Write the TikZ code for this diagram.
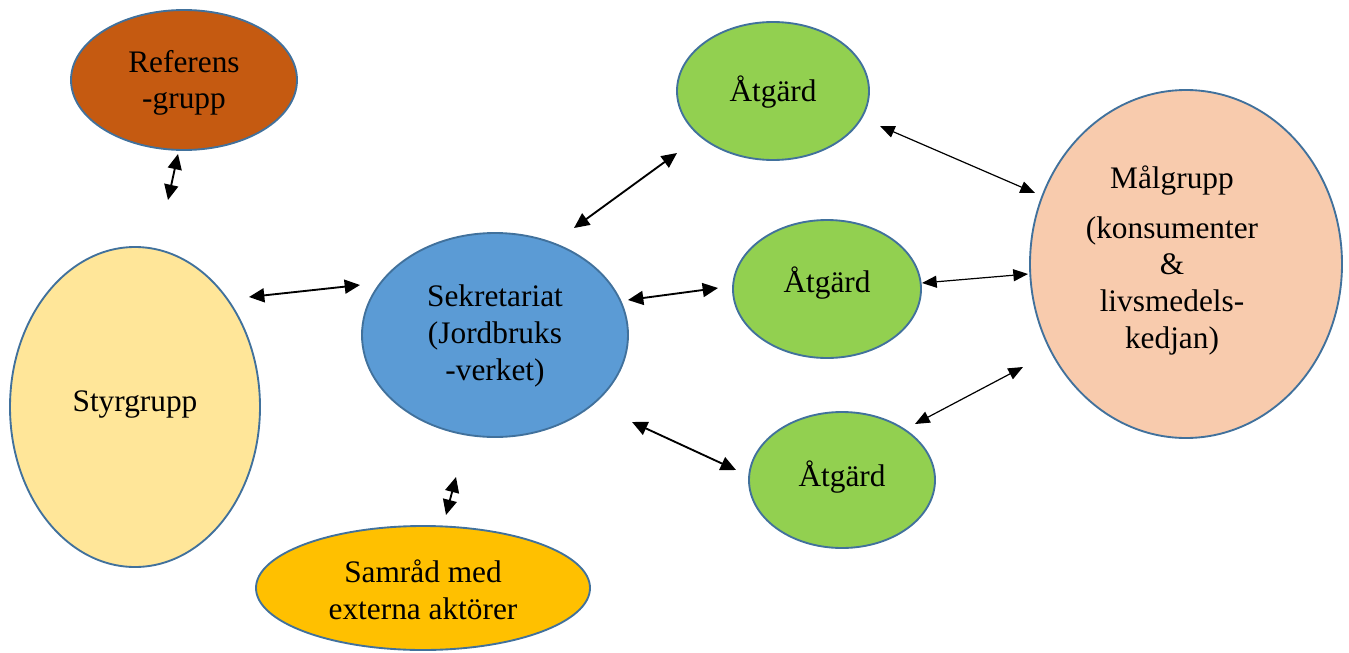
\documentclass[tikz,border=0pt]{standalone}
\usepackage{fontspec}
\setmainfont{Liberation Serif}
\usetikzlibrary{shapes.geometric,arrows.meta}
\definecolor{edgeblue}{HTML}{41719C}
\definecolor{refcol}{HTML}{C55A11}
\definecolor{styrcol}{HTML}{FFE699}
\definecolor{sekcol}{HTML}{5B9BD5}
\definecolor{samcol}{HTML}{FFC000}
\definecolor{atgcol}{HTML}{92D050}
\definecolor{malcol}{HTML}{F8CBAD}
\tikzset{
  ell/.style 2 args={ellipse, draw=edgeblue, line width=1.4pt, inner sep=0pt,
    minimum width=#1*1.5pt, minimum height=#2*1.5pt, align=center,
    font=\fontsize{23.5}{27.5}\selectfont},
  txt/.style={inner sep=0pt, align=center, font=\fontsize{23.5}{27.5}\selectfont},
  darr/.style={{Triangle[length=11.5pt,width=10.5pt]}-{Triangle[length=11.5pt,width=10.5pt]}, line width=1.4pt},
  tarr/.style={{Triangle[length=11pt,width=9pt]}-{Triangle[length=11pt,width=9pt]}, line width=0.9pt}
}
\begin{document}
\begin{tikzpicture}[x=0.75pt,y=-0.75pt]
\useasboundingbox (0,0) rectangle (1349,653);
% nodes
\node[ell={113}{70}, fill=refcol] (ref) at (184,80) {};
\node[txt] (reft) at (184,83) {Referens\\-grupp};
\node[ell={125}{160}, fill=styrcol] (styr) at (135,407) {};
\node[txt] (styrt) at (135,405) {Styrgrupp};
\node[ell={133}{102}, fill=sekcol] (sek) at (495,335) {};
\node[txt] (sekt) at (495,336) {Sekretariat\\(Jordbruks\\-verket)};
\node[ell={167}{62}, fill=samcol] (sam) at (423,588) {};
\node[txt] (samt) at (423,590) {Samråd med\\externa aktörer};
\node[ell={96}{69}, fill=atgcol] (a1) at (773,91) {};
\node[txt] (a1t) at (773,92) {Åtgärd};
\node[ell={94}{69}, fill=atgcol] (a2) at (827,289) {};
\node[txt] (a2t) at (827,283) {Åtgärd};
\node[ell={93}{68}, fill=atgcol] (a3) at (842,480) {};
\node[txt] (a3t) at (842,477) {Åtgärd};
\node[ell={156}{174}, fill=malcol] (mal) at (1186,264) {};
\node[txt] (malt) at (1172,181) {Målgrupp};
\node[txt, anchor=north] (malt2) at (1172,216) {(konsumenter\\\&\\livsmedels-\\kedjan)};
% arrow end points
\coordinate (r1) at (178,154); \coordinate (r2) at (168,200);
\coordinate (s1) at (249,297); \coordinate (s2) at (360,285);
\coordinate (m1) at (456,477); \coordinate (m2) at (446,515);
\coordinate (k1) at (574,228); \coordinate (k2) at (677,153);
\coordinate (k3) at (628,300); \coordinate (k4) at (718,288);
\coordinate (k5) at (632,422); \coordinate (k6) at (736,470);
\coordinate (t1) at (880,126); \coordinate (t2) at (1035,193);
\coordinate (t3) at (922,283); \coordinate (t4) at (1028,274);
\coordinate (t5) at (915,424); \coordinate (t6) at (1023,367);
% arrows
\draw[darr] (r1) -- (r2);
\draw[darr] (s1) -- (s2);
\draw[darr] (m1) -- (m2);
\draw[darr] (k1) -- (k2);
\draw[darr] (k3) -- (k4);
\draw[darr] (k5) -- (k6);
\draw[tarr] (t1) -- (t2);
\draw[tarr] (t3) -- (t4);
\draw[tarr] (t5) -- (t6);
\end{tikzpicture}
\end{document}
